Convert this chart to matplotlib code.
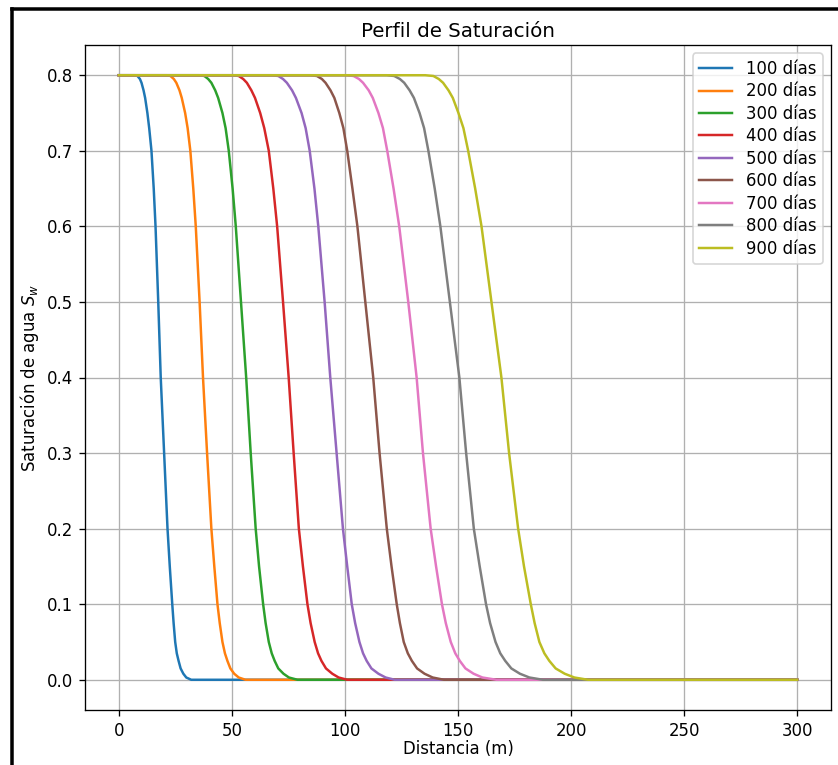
import numpy as np
import matplotlib.pyplot as plt
from matplotlib.lines import Line2D

# saturation levels read along every profile (same for all curves)
sat_levels = [0.8, 0.8, 0.799, 0.795, 0.79, 0.78, 0.77, 0.75, 0.73, 0.7, 0.65, 0.6, 0.5,
              0.4, 0.3, 0.2, 0.15, 0.1, 0.075, 0.05, 0.035, 0.025, 0.015, 0.008, 0.003, 0.0, 0.0]

# distance (m) where each profile reaches the levels above
x_100 = [0, 7.0, 8.2, 9.3, 10.0, 10.9, 11.6, 12.6, 13.4, 14.4, 15.4, 16.2, 17.4,
         18.5, 20.0, 21.5, 22.5, 23.6, 24.2, 24.9, 25.6, 26.4, 27.3, 28.5, 29.8, 32.0, 300]
x_200 = [0, 21.0, 22.8, 24.3, 25.4, 26.8, 27.8, 29.3, 30.4, 31.6, 32.9, 34.0, 35.7,
         37.2, 39.0, 40.9, 42.2, 43.6, 44.6, 45.8, 46.9, 48.0, 49.3, 51.0, 53.0, 56.0, 300]
x_300 = [0, 35.5, 37.8, 39.5, 40.9, 42.6, 43.9, 45.8, 47.2, 48.6, 50.3, 51.7, 54.0,
         56.3, 58.3, 60.5, 62.0, 63.8, 64.9, 66.3, 67.6, 68.9, 70.5, 72.8, 75.2, 79.0, 300]
x_400 = [0, 50.5, 53.0, 55.0, 56.6, 58.6, 60.2, 62.5, 64.3, 66.3, 68.3, 70.0, 72.6,
         75.1, 77.3, 79.6, 81.4, 83.4, 84.8, 86.6, 88.1, 89.6, 91.6, 94.4, 97.2, 101.0, 300]
x_500 = [0, 67.5, 70.5, 72.6, 74.3, 76.6, 78.3, 80.8, 82.6, 84.4, 86.5, 88.2, 91.0,
         93.5, 96.3, 99.1, 101.0, 103.0, 104.5, 106.4, 108.0, 109.6, 111.7, 114.8, 118.0, 122.0, 300]
x_600 = [0, 84.5, 87.6, 89.8, 91.4, 93.6, 95.3, 97.5, 99.3, 101.0, 103.3, 105.5, 109.0,
         112.5, 115.3, 118.5, 120.6, 122.9, 124.3, 126.0, 127.8, 129.6, 131.9, 135.2, 138.8, 143.8, 300]
x_700 = [0, 100.5, 103.8, 106.2, 108.0, 110.5, 112.3, 114.8, 116.8, 118.7, 121.5, 124.0, 128.0,
         131.7, 134.5, 137.9, 140.3, 142.9, 144.6, 146.8, 148.8, 150.8, 153.3, 156.9, 160.8, 167.0, 300]
x_800 = [0, 118.5, 121.8, 124.3, 126.2, 128.6, 130.5, 133.0, 135.0, 136.9, 139.7, 142.2, 146.4,
         150.6, 153.6, 157.0, 159.6, 162.4, 164.2, 166.6, 168.7, 170.9, 173.6, 177.4, 181.6, 187.6, 300]
x_900 = [0, 135.5, 139.1, 141.5, 143.4, 145.8, 147.7, 150.2, 152.4, 154.5, 157.6, 160.4, 164.8,
         169.2, 172.6, 176.6, 179.2, 182.2, 183.9, 186.0, 188.2, 190.4, 193.2, 197.2, 201.5, 207.5, 300]

dias = [100, 200, 300, 400, 500, 600, 700, 800, 900]
perfiles = [x_100, x_200, x_300, x_400, x_500, x_600, x_700, x_800, x_900]

dpi = 119
fig = plt.figure(figsize=(838 / dpi, 765 / dpi), dpi=dpi)
ax = fig.add_axes([85 / 838, 55 / 765, (831 - 85) / 838, (710 - 45) / 765])

for t, xs in zip(dias, perfiles):
    ax.plot(xs, sat_levels, label=f'{t} días')

ax.set_title('Perfil de Saturación', pad=4.8)
ax.set_xlabel('Distancia (m)', labelpad=0.5)
ax.set_ylabel('Saturación de agua $S_w$')
ax.legend(loc='upper right', labelspacing=0.27)
ax.grid(True)

# black frame of the screenshot (left and top edges)
lw = 3.5 * 72 / dpi
fig.add_artist(Line2D([11.5 / 838, 11.5 / 838], [1 - 8.5 / 765, -0.01],
                      color='black', lw=lw, solid_capstyle='projecting'))
fig.add_artist(Line2D([11.5 / 838, 1.01], [1 - 8.5 / 765, 1 - 8.5 / 765],
                      color='black', lw=lw, solid_capstyle='projecting'))

fig.savefig('out.png', dpi=dpi)
